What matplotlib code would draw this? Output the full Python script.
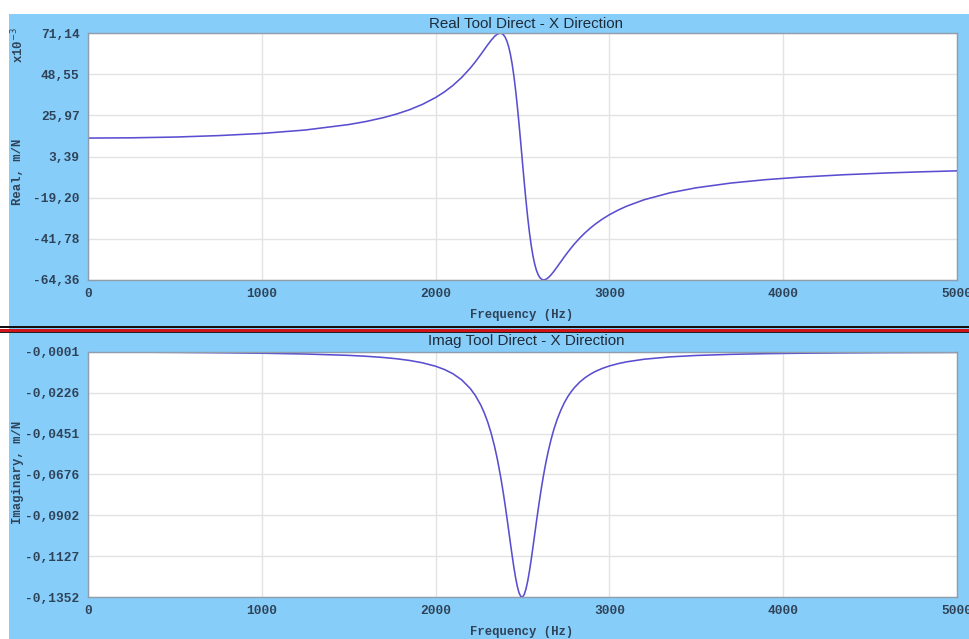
import matplotlib
matplotlib.use("Agg")
import matplotlib.pyplot as plt
from matplotlib.patches import Rectangle
from matplotlib.lines import Line2D

# ---------------- data ----------------
freq_hz = [0, 250, 500, 750, 1000, 1250, 1500, 1600, 1700, 1775, 1850, 1925,
           2000, 2050, 2100, 2150, 2200, 2230, 2260, 2280, 2300, 2320, 2340,
           2355, 2375, 2390, 2400, 2410, 2420, 2430, 2440, 2450, 2460, 2470,
           2480, 2490, 2500, 2510, 2520, 2530, 2540, 2550, 2560, 2570, 2580,
           2590, 2600, 2610, 2620, 2630, 2640, 2650, 2665, 2680, 2700, 2720,
           2740, 2760, 2780, 2800, 2830, 2860, 2890, 2920, 2960, 3000, 3050,
           3100, 3200, 3350, 3500, 3700, 3900, 4100, 4350, 4600, 4800, 5000]

real_e3 = [13.50, 13.64, 14.05, 14.85, 16.04, 17.92, 20.91, 22.60, 24.72, 26.68,
           29.06, 32.02, 35.74, 38.78, 42.40, 46.74, 51.93, 55.49, 59.35, 62.02,
           64.68, 67.21, 69.36, 70.53, 71.14, 70.22, 68.89, 66.78, 63.75, 59.64,
           54.37, 47.86, 40.08, 31.17, 21.31, 10.80, 0.00, -10.67, -20.81,
           -30.11, -38.32, -45.31, -51.05, -55.58, -59.00, -61.44, -63.04,
           -63.95, -64.36, -64.15, -63.68, -62.94, -61.45, -59.68, -57.08,
           -54.40, -51.74, -49.18, -46.74, -44.45, -41.29, -38.45, -35.90,
           -33.61, -30.91, -28.56, -26.02, -23.84, -20.33, -16.50, -13.77,
           -11.17, -9.31, -7.92, -6.61, -5.63, -5.00, -4.48]

imag_vals = [-0.0001, -0.00014, -0.00029, -0.00049, -0.00077, -0.00120, -0.00196,
             -0.00245, -0.00313, -0.00382, -0.00476, -0.00607, -0.00795,
             -0.00972, -0.01211, -0.01546, -0.02029, -0.02426, -0.02939,
             -0.03366, -0.0388, -0.0450, -0.05248, -0.05907, -0.0693, -0.0781,
             -0.08448, -0.0912, -0.09814, -0.1052, -0.11206, -0.1186, -0.12444,
             -0.1293, -0.13286, -0.1349, -0.1352, -0.1338, -0.1308, -0.1264,
             -0.12089, -0.1146, -0.10777, -0.1008, -0.09378, -0.0870, -0.08046,
             -0.0743, -0.0686, -0.0633, -0.0585, -0.0541, -0.04811, -0.0429,
             -0.0371, -0.0323, -0.02822, -0.0248, -0.02201, -0.0196, -0.01663,
             -0.01427, -0.01236, -0.01079, -0.00912, -0.0078, -0.00651,
             -0.00551, -0.00408, -0.00278, -0.00201, -0.00139, -0.00101,
             -0.00077, -0.00057, -0.00043, -0.00036, -0.0003]

x_ticks = [0, 1000, 2000, 3000, 4000, 5000]
real_ticks = [71.14, 48.55, 25.97, 3.39, -19.20, -41.78, -64.36]
real_tick_labels = ["71,14", "48,55", "25,97", "3,39", "-19,20", "-41,78", "-64,36"]
imag_ticks = [-0.0001, -0.0226, -0.0451, -0.0676, -0.0902, -0.1127, -0.1352]
imag_tick_labels = ["-0,0001", "-0,0226", "-0,0451", "-0,0676", "-0,0902",
                    "-0,1127", "-0,1352"]

title_top = "Real Tool Direct - X Direction"
title_bot = "Imag Tool Direct - X Direction"
xlabel = "Frequency (Hz)"
ylabel_top = "Real, m/N"
ylabel_bot = "Imaginary, m/N"

# ---------------- style ----------------
W, H = 970, 639
BG = "#87CDF9"
LINE = "#5A4ED0"
TXT = "#2F4358"
GRID = "#E3E3E3"
SPINE = "#8F9DAD"
MONO = "Liberation Mono"
SANS = "Liberation Sans"

fig = plt.figure(figsize=(W / 100, H / 100), dpi=100, facecolor="white")

def fx(px):
    return px / W

def fy(py):
    return 1 - py / H

# blue background
fig.patches.append(Rectangle((fx(9), 0), 1 - fx(9), fy(14), transform=fig.transFigure,
                             facecolor=BG, edgecolor="none", zorder=-10))

# divider lines
for ypx, col, lw in [(326.5, "#111111", 2), (329.5, "#D0141A", 3), (331.8, "#222222", 1)]:
    fig.lines.append(Line2D([0, 1], [fy(ypx), fy(ypx)], transform=fig.transFigure,
                            color=col, linewidth=lw * 0.72, zorder=5))

def make_axes(top, bottom):
    ax = fig.add_axes([fx(88), fy(bottom), fx(957) - fx(88), fy(top) - fy(bottom)])
    ax.set_facecolor("white")
    ax.set_xlim(0, 5000)
    ax.set_xticks(x_ticks)
    ax.set_xticklabels([str(t) for t in x_ticks], fontfamily=MONO, fontweight="bold",
                       fontsize=9.3, color=TXT)
    ax.grid(True, color=GRID, linewidth=1.0)
    ax.set_axisbelow(True)
    ax.tick_params(axis="both", length=0, pad=6)
    for s in ax.spines.values():
        s.set_color(SPINE)
        s.set_linewidth(1.0)
    return ax

# top panel
ax1 = make_axes(33, 280)
ax1.plot(freq_hz, real_e3, color=LINE, linewidth=1.15)
ax1.set_ylim(real_ticks[-1], real_ticks[0])
ax1.set_yticks(real_ticks)
ax1.set_yticklabels(real_tick_labels, fontfamily=MONO, fontweight="bold",
                    fontsize=9.3, color=TXT)

# bottom panel
ax2 = make_axes(352, 597)
ax2.plot(freq_hz, imag_vals, color=LINE, linewidth=1.15)
ax2.set_ylim(imag_ticks[-1], imag_ticks[0])
ax2.set_yticks(imag_ticks)
ax2.set_yticklabels(imag_tick_labels, fontfamily=MONO, fontweight="bold",
                    fontsize=9.3, color=TXT)

# titles
fig.text(fx(526), fy(24), title_top, ha="center", va="center", fontfamily=SANS,
         fontsize=10.9, color="#1E2B38")
fig.text(fx(526), fy(341), title_bot, ha="center", va="center", fontfamily=SANS,
         fontsize=10.9, color="#1E2B38")

# x labels
fig.text(fx(522), fy(315), xlabel, ha="center", va="center", fontfamily=MONO,
         fontweight="bold", fontsize=8.8, color=TXT)
fig.text(fx(522), fy(632), xlabel, ha="center", va="center", fontfamily=MONO,
         fontweight="bold", fontsize=8.8, color=TXT)

# y labels
fig.text(fx(18), fy(172), ylabel_top, ha="center", va="center", rotation=90,
         fontfamily=MONO, fontweight="bold", fontsize=8.8, color=TXT)
fig.text(fx(18), fy(472), ylabel_bot, ha="center", va="center", rotation=90,
         fontfamily=MONO, fontweight="bold", fontsize=8.8, color=TXT)
fig.text(fx(18), fy(45), r"x10$^{-3}$", ha="center", va="center", rotation=90,
         fontfamily=MONO, fontweight="bold", fontsize=8.8, color=TXT)

fig.savefig("out.png", dpi=100, facecolor=fig.get_facecolor())
